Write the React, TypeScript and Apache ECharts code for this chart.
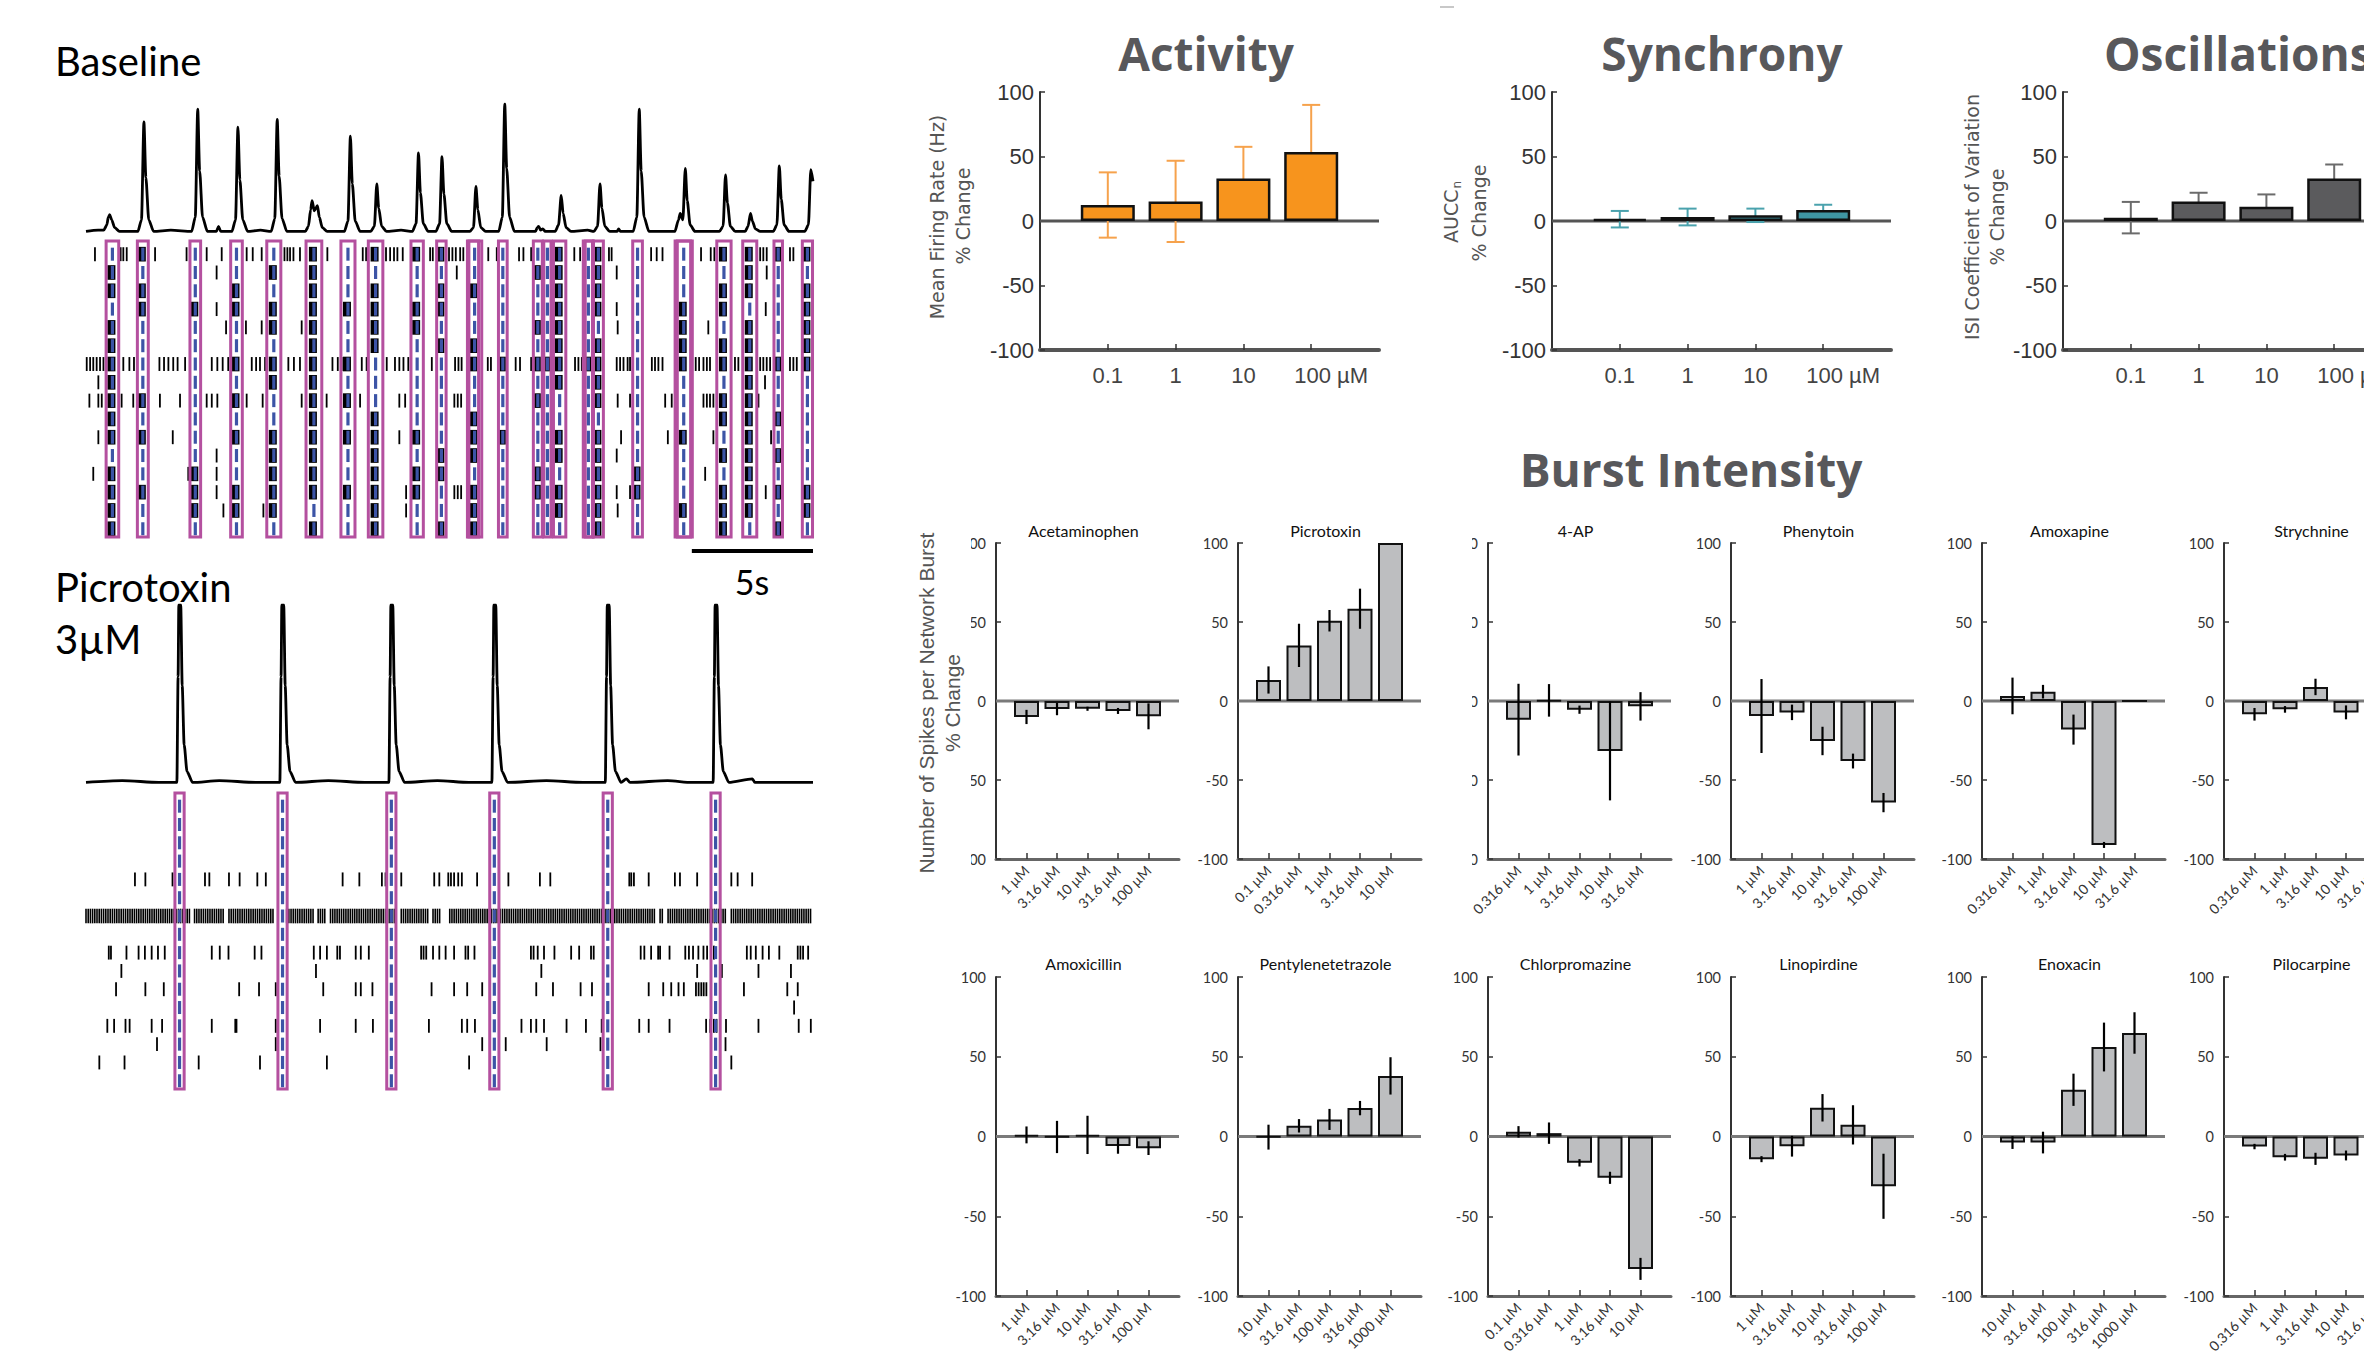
import React, { useEffect, useRef } from "react";
import * as echarts from "echarts";

// ================= LEFT PANEL DATA (time in s, amplitude normalised) =================
const baselineTrace: number[][] = [
  [0, 0.01], [0.5, 0.02], [0.73, 0.02], [0.86, 0.06], [0.92, 0.12], [0.98, 0.14], [1.06, 0.1], [1.18, 0.04], [1.38, 0.01],
  [1.8, 0.01], [2.14, 0.01], [2.29, 0.1], [2.39, 0.86], [2.47, 0.43], [2.59, 0.1], [2.79, 0.01],
  [3.5, 0.02], [4.36, 0.01], [4.51, 0.12], [4.61, 0.96], [4.69, 0.48], [4.81, 0.12], [5.01, 0.01],
  [5.38, 0.01], [5.47, 0.05], [5.56, 0.01],
  [6.02, 0.01], [6.17, 0.1], [6.27, 0.82], [6.35, 0.41], [6.47, 0.1], [6.67, 0.01],
  [7.2, 0.02], [7.64, 0.01], [7.79, 0.11], [7.89, 0.88], [7.97, 0.44], [8.09, 0.11], [8.29, 0.01],
  [9.05, 0.01], [9.18, 0.05], [9.27, 0.18], [9.33, 0.25], [9.42, 0.17], [9.55, 0.21], [9.63, 0.12], [9.75, 0.04], [9.95, 0.01],
  [10.66, 0.01], [10.81, 0.09], [10.91, 0.75], [10.99, 0.38], [11.11, 0.09], [11.31, 0.01],
  [11.75, 0.01], [11.9, 0.05], [12.0, 0.38], [12.08, 0.19], [12.2, 0.05], [12.4, 0.01],
  [13.0, 0.02], [13.47, 0.01], [13.62, 0.07], [13.72, 0.62], [13.8, 0.31], [13.92, 0.07], [14.12, 0.01],
  [14.44, 0.01], [14.59, 0.07], [14.69, 0.59], [14.77, 0.3], [14.89, 0.07], [15.09, 0.01],
  [15.84, 0.01], [15.99, 0.04], [16.09, 0.36], [16.17, 0.18], [16.29, 0.04], [16.49, 0.01],
  [17.03, 0.01], [17.18, 0.12], [17.28, 1.0], [17.36, 0.5], [17.48, 0.12], [17.68, 0.01],
  [18.55, 0.01], [18.62, 0.04], [18.68, 0.05], [18.76, 0.02], [18.85, 0.03], [18.95, 0.01],
  [19.36, 0.01], [19.5, 0.06], [19.61, 0.29], [19.69, 0.15], [19.81, 0.04], [20.01, 0.01],
  [20.7, 0.02], [20.96, 0.01], [21.11, 0.05], [21.21, 0.38], [21.29, 0.19], [21.41, 0.05], [21.61, 0.01],
  [21.92, 0.01], [21.98, 0.03], [22.05, 0.01],
  [22.58, 0.01], [22.73, 0.12], [22.83, 0.96], [22.91, 0.48], [23.03, 0.12], [23.23, 0.01],
  [24.3, 0.01], [24.45, 0.1], [24.52, 0.15], [24.63, 0.1], [24.73, 0.5], [24.81, 0.25], [24.93, 0.06], [25.13, 0.01],
  [26.14, 0.01], [26.29, 0.05], [26.39, 0.45], [26.47, 0.23], [26.59, 0.05], [26.79, 0.01],
  [27.2, 0.01], [27.32, 0.05], [27.42, 0.15], [27.5, 0.09], [27.62, 0.03], [27.82, 0.01],
  [28.36, 0.01], [28.51, 0.06], [28.61, 0.52], [28.69, 0.26], [28.81, 0.06], [29.01, 0.01],
  [29.66, 0.01], [29.81, 0.06], [29.91, 0.49], [30.0, 0.4],
];

const picroTrace: number[][] = [
  [0, 0.01], [1.5, 0.02], [3.0, 0.01],
  [3.75, 0.01], [3.8, 0.6], [3.83, 1], [3.91, 1], [3.97, 0.55], [4.05, 0.22], [4.17, 0.07], [4.4, 0.01],
  [5.5, 0.02], [7.0, 0.01],
  [8.0, 0.01], [8.05, 0.6], [8.08, 1], [8.16, 1], [8.22, 0.55], [8.3, 0.22], [8.42, 0.07], [8.65, 0.01],
  [10.0, 0.02], [11.5, 0.01],
  [12.5, 0.01], [12.55, 0.6], [12.58, 1], [12.66, 1], [12.72, 0.55], [12.8, 0.22], [12.92, 0.07], [13.15, 0.01],
  [14.5, 0.02], [15.8, 0.01],
  [16.75, 0.01], [16.8, 0.6], [16.83, 1], [16.91, 1], [16.97, 0.55], [17.05, 0.22], [17.17, 0.07], [17.4, 0.01],
  [19.0, 0.02], [20.5, 0.01],
  [21.43, 0.01], [21.48, 0.6], [21.51, 1], [21.59, 1], [21.65, 0.55], [21.73, 0.22], [21.85, 0.07], [22.08, 0.01], [22.3, 0.03], [22.45, 0.01],
  [24.0, 0.02], [25.0, 0.01],
  [25.88, 0.01], [25.93, 0.6], [25.96, 1], [26.04, 1], [26.1, 0.55], [26.18, 0.22], [26.3, 0.07], [26.53, 0.01],
  [27.5, 0.03], [27.6, 0.01], [30, 0.01],
];

// network bursts [start, end] in s
const baselineBursts: number[][] = [
  [0.83, 1.35], [2.12, 2.57], [4.29, 4.73], [5.97, 6.45], [7.46, 8.04], [9.08, 9.73], [10.52, 11.1], [11.65, 12.25],
  [13.41, 13.92], [14.47, 14.86], [15.74, 16.33], [17.02, 17.38], [18.46, 18.83], [18.89, 19.19], [19.29, 19.8],
  [20.52, 20.94], [20.94, 21.35], [22.56, 22.96], [24.31, 25.02], [26.03, 26.62], [27.1, 27.68], [28.39, 28.74], [29.56, 29.98],
];
// electrodes (rows) that fire inside each burst
const baselineBurstRows: number[][] = [
  [1, 2, 4, 5, 6, 7, 8, 9, 10, 12, 13, 14, 15],
  [0, 2, 3, 8, 10, 13],
  [3, 12, 13, 14],
  [2, 3, 6, 8, 10, 13, 14],
  [1, 3, 4, 6, 7, 10, 11, 12, 13, 14],
  [0, 1, 2, 3, 4, 5, 6, 7, 8, 9, 10, 11, 12, 13, 15],
  [3, 6, 8, 10, 13],
  [0, 2, 3, 4, 5, 9, 10, 11, 12, 13, 14, 15],
  [0, 3, 4, 10, 12, 13],
  [0, 2, 3, 5, 11, 12, 15],
  [2, 5, 6, 9, 10, 11, 13, 14, 15],
  [6, 10],
  [1, 4, 6, 8, 12, 13],
  [6],
  [0, 1, 2, 3, 4, 5, 6, 7, 10, 11, 13, 14],
  [6],
  [0, 1, 2, 3, 5, 6, 7, 8, 10, 11, 12, 13, 14, 15],
  [12, 13],
  [3, 4, 5, 6, 10, 14],
  [0, 2, 3, 5, 6, 8, 9, 11, 13, 14, 15],
  [0, 1, 2, 4, 5, 6, 7, 8, 9, 10, 11, 12, 13, 14],
  [0, 6, 9, 11, 13, 15],
  [0, 2, 3, 4, 5, 6, 13, 14],
];
// overlapping detection windows (outline only)
const baselineOverlapBursts: number[][] = [[15.8, 16.2], [20.6, 20.9], [24.4, 24.95]];

// isolated spikes per electrode row (s)
const baselineSpikes: number[][] = [
  [0.37, 1.43, 1.54, 1.68, 2.85, 4.15, 4.98, 5.6, 6.63, 6.88, 7.25, 8.19, 8.31, 8.42, 8.56, 8.83, 9.96, 11.42, 11.56, 12.38, 12.55, 12.71, 12.85, 13.07, 14.2, 14.31, 14.98, 15.12, 15.26, 15.44, 15.57, 16.6, 16.95, 17.87, 18.05, 18.37, 20.15, 20.39, 21.58, 21.69, 23.32, 23.55, 23.79, 25.38, 25.78, 25.93, 27.82, 27.95, 28.09, 29.05, 29.19],
  [5.39, 15.3, 21.9, 28.09],
  [27.27, 27.4],
  [5.39, 21.9, 28.05],
  [5.78, 6.6, 7.25, 8.9, 21.94, 25.68],
  [],
  [0.03, 0.17, 0.3, 0.44, 0.58, 0.72, 1.54, 1.79, 1.98, 3.03, 3.22, 3.4, 3.6, 3.78, 4.09, 5.19, 5.42, 5.64, 5.87, 6.84, 7.02, 7.18, 7.39, 8.35, 8.58, 8.83, 10.17, 10.39, 10.55, 11.38, 11.58, 12.41, 12.75, 12.93, 13.1, 13.3, 14.27, 15.23, 15.37, 15.5, 16.58, 16.71, 17.73, 17.91, 18.37, 20.18, 20.32, 20.46, 21.9, 22.04, 22.18, 22.35, 22.45, 23.35, 23.48, 23.62, 23.79, 25.16, 25.3, 25.48, 25.62, 25.75, 26.78, 26.92, 27.82, 27.95, 28.09, 28.23, 29.05, 29.19, 29.33],
  [0.51, 28.02],
  [0.14, 0.51, 0.65, 1.47, 1.95, 3.05, 3.88, 4.98, 5.19, 5.42, 6.63, 7.29, 8.9, 9.93, 11.31, 12.93, 13.17, 15.2, 15.34, 15.48, 21.94, 22.45, 23.9, 24.17, 25.48, 25.62, 25.75, 25.89, 27.75],
  [],
  [0.51, 3.58, 12.93, 22.08, 24.01, 25.89, 28.27],
  [5.39, 21.9],
  [0.3, 4.22, 5.39, 25.55],
  [5.39, 13.21, 15.2, 15.34, 15.48, 21.9, 22.45, 28.05],
  [5.67, 7.32, 13.21, 21.94],
  [],
];

const picroBursts: number[][] = [[3.67, 4.05], [7.92, 8.3], [12.41, 12.79], [16.66, 17.04], [21.34, 21.72], [25.79, 26.17]];
const picroSpikes: number[][] = [
  [], [], [], [],
  [2.02, 2.45, 3.57, 4.91, 5.09, 5.9, 6.34, 7.07, 7.42, 10.59, 11.28, 12.21, 12.36, 13.01, 14.37, 14.58, 14.95, 15.06, 15.19, 15.36, 15.51, 16.14, 17.43, 18.73, 19.16, 22.42, 22.5, 22.61, 23.22, 24.3, 24.51, 25.22, 26.63, 26.89, 27.49],
  [], [], [],
  [0.94, 1.03, 1.67, 2.17, 2.43, 2.71, 2.97, 3.25, 5.19, 5.52, 5.88, 6.96, 7.24, 9.4, 9.66, 9.94, 10.37, 10.48, 11.13, 11.34, 11.67, 13.83, 13.93, 14.04, 14.32, 14.58, 14.84, 15.19, 15.66, 15.77, 16.03, 16.68, 18.36, 18.47, 18.64, 18.9, 19.33, 20.02, 20.35, 20.84, 20.95, 22.89, 23.04, 23.32, 23.61, 23.69, 24.08, 24.73, 24.88, 25.05, 25.27, 25.48, 25.63, 25.91, 27.27, 27.43, 27.64, 27.92, 28.18, 28.61, 29.37, 29.48, 29.59, 29.8],
  [1.46, 9.49, 18.79, 25.22, 26.24, 27.75, 29.09],
  [1.24, 2.45, 3.21, 6.32, 7.14, 7.83, 9.79, 11.13, 11.34, 11.82, 14.26, 15.19, 15.73, 16.35, 18.58, 19.27, 20.41, 20.88, 23.22, 23.82, 24.15, 24.45, 24.67, 25.17, 25.28, 25.39, 25.49, 25.6, 27.15, 28.94, 29.37],
  [29.22],
  [0.88, 1.16, 1.63, 1.8, 2.71, 3.14, 5.19, 6.16, 6.21, 7.83, 9.66, 11.13, 11.84, 14.15, 15.51, 15.73, 16.05, 17.97, 18.36, 18.58, 18.9, 19.83, 20.63, 21.28, 22.83, 23.22, 24.08, 25.59, 25.76, 25.91, 26.02, 26.41, 27.75, 29.41, 29.91],
  [2.93, 7.83, 16.35, 17.32, 19.01, 21.23, 26.39],
  [0.55, 1.59, 4.65, 7.18, 9.94, 15.81, 26.63],
  [],
];
// row 6 fires almost continuously: [start, end, row]
const picroDense: number[][] = [
  [0, 4.33, 6], [4.48, 5.73, 6], [5.9, 7.78, 6], [8.28, 9.4, 6], [9.58, 9.94, 6], [10.09, 12.79, 6],
  [13.01, 14.19, 6], [14.32, 14.65, 6], [15.01, 23.54, 6], [23.69, 23.86, 6], [24.02, 26.45, 6], [26.63, 29.91, 6],
];
const scaleBar: number[][] = [[25, 30]];

// ================= RIGHT: summary bars =================
const topCats = ["0.1", "1", "10", "100 µM"];
const activityVals = [12.4, 15.2, 33.0, 53.4];
const activityErr = [25.3, 31.5, 24.5, 36.6];
const synchronyVals = [1.4, 3.1, 4.4, 8.5];
const synchronyErr = [6.4, 6.5, 5.2, 4.1];
const oscVals = [2.6, 15.2, 11.1, 33.0];
const oscErr = [12.2, 6.7, 9.5, 10.8];

const doseA = ["1 µM", "3.16 µM", "10 µM", "31.6 µM", "100 µM"];
const doseB = ["0.1 µM", "0.316 µM", "1 µM", "3.16 µM", "10 µM"];
const doseC = ["0.316 µM", "1 µM", "3.16 µM", "10 µM", "31.6 µM"];
const doseD = ["10 µM", "31.6 µM", "100 µM", "316 µM", "1000 µM"];

const drugNames = [
  "Acetaminophen", "Picrotoxin", "4-AP", "Phenytoin", "Amoxapine", "Strychnine",
  "Amoxicillin", "Pentylenetetrazole", "Chlorpromazine", "Linopirdine", "Enoxacin", "Pilocarpine",
];
const drugDoses = [doseA, doseB, doseC, doseA, doseC, doseC, doseA, doseD, doseB, doseA, doseD, doseC];
const drugVals = [
  [-10.1, -5.1, -4.9, -6.3, -9.7],
  [13.3, 35.2, 50.8, 58.4, 100],
  [-11.8, 0.4, -5.5, -31.6, -3.4],
  [-9.5, -7.2, -25.3, -38, -64.3],
  [3.2, 5.9, -18.1, -91.1, 0],
  [-8.4, -5.3, 8.9, -7.2, -25],
  [1.0, -0.3, 1.0, -5.9, -7.3],
  [-0.4, 6.7, 10.7, 17.8, 38],
  [2.9, 2.1, -16.5, -25.9, -83],
  [-14.2, -6.1, 18, 7.3, -31.2],
  [-3.8, -3.8, 29.3, 56.1, 64.9],
  [-6.3, -13, -14, -11.9, -30],
];
const drugErr = [
  [4.5, 3.9, 1.3, 1.9, 8.2],
  [8.6, 13.7, 6.8, 12.7, 0],
  [22.7, 10.3, 2.6, 31.3, 9],
  [23.4, 4.9, 9, 4.7, 6.1],
  [11.6, 4.3, 9.5, 1.9, 0],
  [4, 2.1, 5.2, 4.4, 5],
  [5.3, 10.1, 12, 4.9, 4.3],
  [7.8, 4.2, 6.6, 4.5, 11.7],
  [3.6, 6.7, 2.3, 3.8, 6.9],
  [1.9, 6.5, 8.6, 12.3, 20.4],
  [4, 6.8, 10.1, 15.3, 13],
  [1.7, 2.1, 3.8, 3.1, 5],
];

// ================= STYLE =================
const SANS = "'Liberation Sans', Arial, sans-serif";
const LATO = "Lato, 'Open Sans', sans-serif";
const MAGENTA = "#b4509f";
const BLUE = "#3c54a6";

function buildOption(): any {
  const grid: any[] = [];
  const xAxis: any[] = [];
  const yAxis: any[] = [];
  const series: any[] = [];
  const graphic: any[] = [];

  const pushGrid = (box: any) => {
    grid.push({ ...box, containLabel: false, outerBoundsMode: "none" });
    return grid.length - 1;
  };

  const addTimeGrid = (box: any, yMin: number, yMax: number, inverse: boolean) => {
    const gi = pushGrid(box);
    xAxis.push({ gridIndex: gi, type: "value", min: 0, max: 30, show: false });
    yAxis.push({ gridIndex: gi, type: "value", min: yMin, max: yMax, inverse, show: false });
    return gi;
  };

  const traceSeries = (gi: number, data: number[][]) => ({
    type: "line", xAxisIndex: gi, yAxisIndex: gi, data, showSymbol: false, symbol: "none",
    smooth: 0.25, smoothMonotone: "x", silent: true,
    lineStyle: { color: "#000", width: 2.8 },
  });

  const spikeSeries = (gi: number, rows: number[][]) => ({
    type: "custom", xAxisIndex: gi, yAxisIndex: gi, silent: true, z: 2,
    data: rows.flatMap((ts, r) => ts.map((t) => [t, r])),
    encode: { x: 0, y: 1 },
    renderItem: (_p: any, api: any) => {
      const pt = api.coord([api.value(0), api.value(1)]);
      const h = Math.abs(api.size([0, 1])[1]) * 0.38;
      return { type: "line", shape: { x1: pt[0], y1: pt[1] - h, x2: pt[0], y2: pt[1] + h }, style: { stroke: "#000", lineWidth: 1.8 } };
    },
  });

  const burstSpikeSeries = (gi: number, bursts: number[][], rows: number[][]) => ({
    type: "custom", xAxisIndex: gi, yAxisIndex: gi, silent: true, z: 3,
    data: bursts.flatMap((b, i) => rows[i].map((r) => [(b[0] + b[1]) / 2, r])),
    encode: { x: 0, y: 1 },
    renderItem: (_p: any, api: any) => {
      const pt = api.coord([api.value(0), api.value(1)]);
      const h = Math.abs(api.size([0, 1])[1]) * 0.4;
      return { type: "rect", shape: { x: pt[0] - 5, y: pt[1] - h, width: 8, height: 2 * h }, style: { fill: "#000" } };
    },
  });

  const burstSeries = (gi: number, bursts: number[][], withLine: boolean, nRows: number) => ({
    type: "custom", xAxisIndex: gi, yAxisIndex: gi, silent: true, z: 5,
    data: bursts,
    encode: { x: [0, 1] },
    renderItem: (params: any, api: any) => {
      const cs = params.coordSys;
      const x0 = api.coord([api.value(0), 0])[0];
      const x1 = api.coord([api.value(1), 0])[0];
      const xc = (x0 + x1) / 2;
      const children: any[] = [];
      if (withLine) {
        for (let r = 0; r < nRows; r++) {
          const y = api.coord([0, r])[1];
          children.push({ type: "line", shape: { x1: xc, y1: y - 6.5, x2: xc, y2: y + 6.5 }, style: { stroke: BLUE, lineWidth: 3.2 } });
        }
      }
      children.push({ type: "rect", shape: { x: x0, y: cs.y, width: x1 - x0, height: cs.height }, style: { fill: "none", stroke: MAGENTA, lineWidth: 3 } });
      return { type: "group", children };
    },
  });

  // ---- baseline
  const g0 = addTimeGrid({ left: 86, top: 104, width: 727, height: 130 }, -0.01, 1, false);
  series.push(traceSeries(g0, baselineTrace));
  const g1 = addTimeGrid({ left: 86, top: 241, width: 727, height: 296 }, -0.72, 15.45, true);
  series.push(spikeSeries(g1, baselineSpikes));
  series.push(burstSpikeSeries(g1, baselineBursts, baselineBurstRows));
  series.push(burstSeries(g1, baselineBursts, true, 16));
  series.push(burstSeries(g1, baselineOverlapBursts, false, 16));
  series.push({
    type: "custom", xAxisIndex: g1, yAxisIndex: g1, silent: true, data: scaleBar, encode: { x: [0, 1] },
    renderItem: (params: any, api: any) => {
      const cs = params.coordSys;
      const a = api.coord([api.value(0), 0])[0];
      const b = api.coord([api.value(1), 0])[0];
      const y = cs.y + cs.height + 14;
      return { type: "line", shape: { x1: a, y1: y, x2: b, y2: y }, style: { stroke: "#000", lineWidth: 4 } };
    },
  });

  // ---- picrotoxin
  const g2 = addTimeGrid({ left: 86, top: 605, width: 727, height: 181 }, -0.01, 1, false);
  series.push(traceSeries(g2, picroTrace));
  const g3 = addTimeGrid({ left: 86, top: 793, width: 727, height: 296 }, -0.72, 15.45, true);
  series.push(spikeSeries(g3, picroSpikes));
  series.push({
    type: "custom", xAxisIndex: g3, yAxisIndex: g3, silent: true, z: 2, data: picroDense, encode: { x: [0, 1], y: 2 },
    renderItem: (_p: any, api: any) => {
      const a = api.coord([api.value(0), api.value(2)]);
      const b = api.coord([api.value(1), api.value(2)]);
      const h = Math.abs(api.size([0, 1])[1]) * 0.4;
      // hatch of densely packed spike ticks
      const children: any[] = [];
      for (let x = a[0]; x <= b[0]; x += 2.2) {
        children.push({ type: "line", shape: { x1: x, y1: a[1] - h, x2: x, y2: a[1] + h }, style: { stroke: "#000", lineWidth: 1.6 } });
      }
      return { type: "group", children };
    },
  });
  series.push(burstSeries(g3, picroBursts, true, 16));

  // ---- bar panels
  const addBarPanel = (p: any) => {
    const n = p.values.length;
    const idx = p.values.map((_: number, i: number) => i + 1);
    const gi = pushGrid({ left: p.left, top: p.top, width: p.width, height: p.height });
    xAxis.push({
      gridIndex: gi, type: "value", min: 0, max: n + 1, interval: 1,
      axisLine: { show: true, onZero: false, lineStyle: { color: p.xLineColor, width: p.xLineWidth } },
      axisTick: { show: true, inside: true, length: 6, customValues: idx, lineStyle: { color: "#333", width: 1.5 } },
      axisLabel: {
        show: true, customValues: idx, rotate: p.rotate, margin: p.xMargin, hideOverlap: false,
        fontSize: p.xFont, fontFamily: p.xFamily, color: p.xColor,
        formatter: (v: number) => {
          const s = p.labels[Math.round(v) - 1];
          if (!s) return "";
          return p.shiftLast && Math.round(v) === n ? `{u|${s}}` : s;
        },
        rich: { u: { padding: [0, 0, 0, 40], fontSize: p.xFont, fontFamily: p.xFamily, color: p.xColor } },
      },
      splitLine: { show: false },
    });
    yAxis.push({
      gridIndex: gi, type: "value", min: -100, max: 100, interval: 50,
      axisLine: { show: true, onZero: false, lineStyle: { color: "#333", width: 2 } },
      axisTick: { show: true, inside: true, length: 5, lineStyle: { color: "#333", width: 1.5 } },
      axisLabel: { margin: p.yMargin, fontSize: p.yFont, fontFamily: p.yFamily, color: "#333" },
      splitLine: { show: false },
    });
    series.push({
      type: "custom", xAxisIndex: gi, yAxisIndex: gi, silent: true, z: 1, data: [[0, n + 1]], encode: { x: [0, 1] },
      renderItem: (_pp: any, api: any) => {
        const a = api.coord([api.value(0), 0]);
        const b = api.coord([api.value(1), 0]);
        return { type: "line", shape: { x1: a[0], y1: a[1], x2: b[0], y2: b[1] }, style: { stroke: p.zeroColor, lineWidth: 3 } };
      },
    });
    series.push({
      type: "bar", xAxisIndex: gi, yAxisIndex: gi, silent: true, z: 3, barWidth: p.barW,
      data: p.values.map((v: number, i: number) => [i + 1, v]),
      itemStyle: { color: p.barColor, borderColor: "#111", borderWidth: p.borderW },
    });
    series.push({
      type: "custom", xAxisIndex: gi, yAxisIndex: gi, silent: true, z: p.errZ,
      data: p.values.map((v: number, i: number) => [i + 1, v - p.errors[i], v + p.errors[i]]).filter((_d: any, i: number) => p.errors[i] > 0),
      encode: { x: 0, y: [1, 2] },
      renderItem: (_pp: any, api: any) => {
        const x = api.value(0);
        const lo = api.coord([x, api.value(1)]);
        const hi = api.coord([x, api.value(2)]);
        const st = { stroke: p.errColor, lineWidth: p.errW };
        const ch: any[] = [{ type: "line", shape: { x1: lo[0], y1: lo[1], x2: hi[0], y2: hi[1] }, style: st }];
        if (p.cap) {
          ch.push({ type: "line", shape: { x1: hi[0] - p.cap, y1: hi[1], x2: hi[0] + p.cap, y2: hi[1] }, style: st });
          ch.push({ type: "line", shape: { x1: lo[0] - p.cap, y1: lo[1], x2: lo[0] + p.cap, y2: lo[1] }, style: st });
        }
        return { type: "group", children: ch };
      },
    });
  };

  const topCommon = {
    top: 92, width: 339, height: 258, labels: topCats, rotate: 0, xMargin: 14, xFont: 22, xFamily: SANS, xColor: "#444",
    yMargin: 6, yFont: 22, yFamily: SANS, xLineColor: "#555", xLineWidth: 4, zeroColor: "#555",
    barW: 54, borderW: 2.5, errZ: 2, errW: 2, cap: 9, shiftLast: true,
  };
  addBarPanel({ ...topCommon, left: 1040, values: activityVals, errors: activityErr, barColor: "#f7941d", errColor: "#f6a24c" });
  addBarPanel({ ...topCommon, left: 1552, values: synchronyVals, errors: synchronyErr, barColor: "#3f95a2", errColor: "#4aa2ad" });
  addBarPanel({ ...topCommon, left: 2063, values: oscVals, errors: oscErr, barColor: "#5b5b5d", errColor: "#6b6b6b" });

  const burstLefts = [996, 1238, 1488, 1731, 1982, 2224];
  const burstTops = [543, 977];
  const burstHeights = [316, 319];
  drugNames.forEach((name, k) => {
    const row = Math.floor(k / 6);
    const col = k % 6;
    const left = burstLefts[col];
    addBarPanel({
      left, top: burstTops[row], width: 183, height: burstHeights[row],
      labels: drugDoses[k], rotate: 45, xMargin: 9, xFont: 14, xFamily: LATO, xColor: "#333",
      yMargin: 10, yFont: 14.5, yFamily: LATO, xLineColor: "#666", xLineWidth: 3, zeroColor: "#7a7a7a",
      barW: 25, borderW: 2, errZ: 4, errW: 2.2, cap: 0, shiftLast: false,
      values: drugVals[k], errors: drugErr[k], barColor: "#bdbec0", errColor: "#000",
    });
    graphic.push({
      type: "text", x: left + 87.5, y: row === 0 ? 530 : 963, z: 100, silent: true,
      style: { text: name, font: `16px ${LATO}`, fill: "#111", textAlign: "center", textVerticalAlign: "middle", align: "center", verticalAlign: "middle" },
    });
  });

  // ---- texts
  const txt = (x: number, y: number, text: string, font: string, fill: string, align = "left", rot = 0, z = 100) => ({
    type: "text", x, y, z, rotation: rot, silent: true,
    style: { text, font, fill, textAlign: align, textVerticalAlign: "middle", align, verticalAlign: "middle" },
  });
  const bigLeft = `40px ${LATO}`;
  graphic.push(txt(55, 61, "Baseline", bigLeft, "#000"));
  graphic.push(txt(55, 587, "Picrotoxin", bigLeft, "#000"));
  graphic.push(txt(55, 639, "3µM", bigLeft, "#000"));
  graphic.push(txt(752, 581, "5s", `34px ${LATO}`, "#000", "center"));

  const TITLE = "bold 46px 'Open Sans', Lato, sans-serif";
  const TITLE_C = "#58585b";
  graphic.push(txt(1206, 53, "Activity", TITLE, TITLE_C, "center"));
  graphic.push(txt(1722, 53, "Synchrony", TITLE, TITLE_C, "center"));
  graphic.push(txt(2104, 53, "Oscillations", TITLE, TITLE_C, "left"));
  graphic.push(txt(1691, 469, "Burst Intensity", TITLE, TITLE_C, "center"));

  const R = Math.PI / 2;
  const YL = "19px 'DejaVu Sans', sans-serif";
  graphic.push(txt(937, 217, "Mean Firing Rate (Hz)", YL, "#555", "center", R));
  graphic.push(txt(963, 216, "% Change", YL, "#555", "center", R));
  graphic.push({
    type: "text", x: 1451, y: 212, z: 100, rotation: R, silent: true,
    style: {
      text: "{a|AUCC}{b|n}", textAlign: "center", textVerticalAlign: "middle", align: "center", verticalAlign: "middle",
      rich: {
        a: { fontSize: 19, fontFamily: "'DejaVu Sans', sans-serif", fill: "#555", color: "#555" },
        b: { fontSize: 12, fontFamily: "'DejaVu Sans', sans-serif", fill: "#555", color: "#555", padding: [12, 0, 0, 1] },
      },
    },
  });
  graphic.push(txt(1479, 213, "% Change", YL, "#555", "center", R));
  graphic.push(txt(1972, 217, "ISI Coefficient of Variation", YL, "#555", "center", R));
  graphic.push(txt(1997, 217, "% Change", YL, "#555", "center", R));

  const BL = "21px 'Liberation Sans', Arial, sans-serif";
  // white masks where neighbouring panels overlap tick labels
  graphic.push({ type: "rect", z: 90, silent: true, shape: { x: 955, y: 535, width: 16, height: 335 }, style: { fill: "#fff" } });
  graphic.push({ type: "rect", z: 90, silent: true, shape: { x: 1424, y: 535, width: 48, height: 335 }, style: { fill: "#fff" } });
  graphic.push(txt(926, 703, "Number of Spikes per Network Burst", BL, "#555", "center", R));
  graphic.push(txt(952, 703, "% Change", BL, "#555", "center", R));
  graphic.push({ type: "line", z: 100, silent: true, shape: { x1: 1440, y1: 7, x2: 1454, y2: 7 }, style: { stroke: "#c8c8c8", lineWidth: 2 } });

  return { animation: false, backgroundColor: "#fff", grid, xAxis, yAxis, series, graphic };
}

export default function App() {
  const ref = useRef<HTMLDivElement>(null);
  useEffect(() => {
    if (!ref.current) return;
    const chart = echarts.init(ref.current, null, { renderer: "svg" });
    chart.setOption(buildOption());
    return () => chart.dispose();
  }, []);
  return (
    <div
      ref={ref}
      style={{ position: "fixed", left: 0, top: 0, width: 2364, height: 1356, background: "#fff" }}
    />
  );
}
